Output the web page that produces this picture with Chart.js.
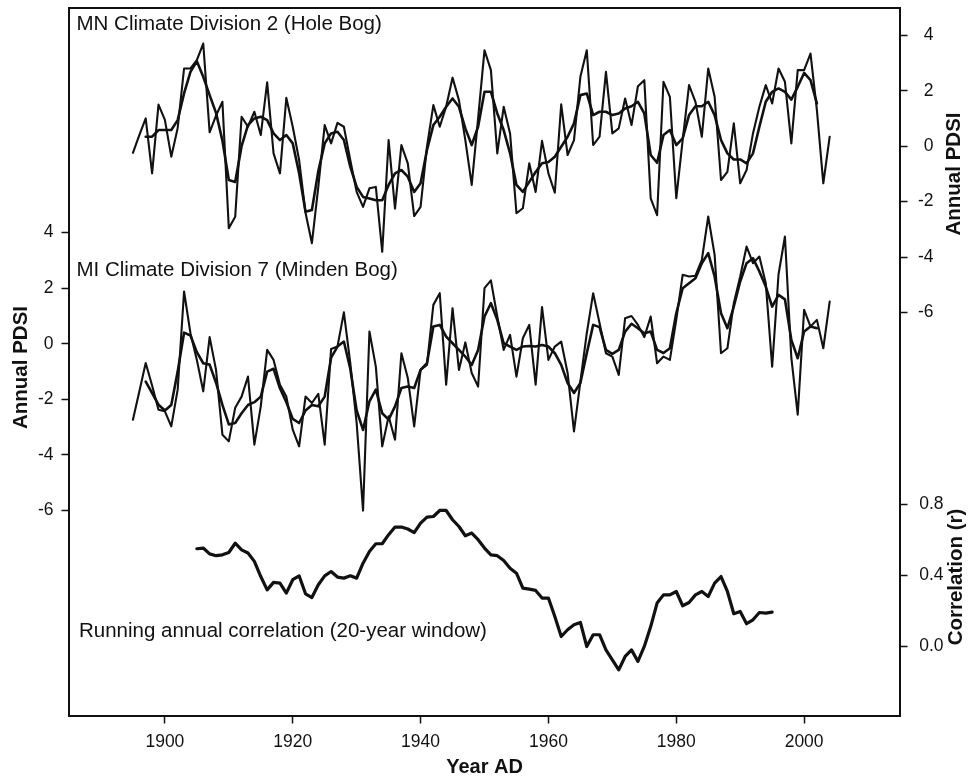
<!DOCTYPE html>
<html>
<head>
<meta charset="utf-8">
<script src="https://cdn.jsdelivr.net/npm/chart.js@4.4.1/dist/chart.umd.min.js"></script>
<style>
  html, body { margin: 0; padding: 0; background: #fff; }
  canvas { display: block; }
</style>
</head>
<body>
<canvas id="chart" width="971" height="779"></canvas>
<script>
// Annual PDSI for two climate divisions + running 20-yr correlation

// MN Climate Division 2 (Hole Bog), annual PDSI 1895-2004
const mnStart = 1895;
const mnAnnual = [
  -0.24, 0.4, 1.0, -0.98, 1.5, 0.95, -0.38, 0.65, 2.8, 2.8,
  3.1, 3.7, 0.5, 1.1, 1.6, -2.96, -2.55, 1.06, 0.7, 1.24,
  0.4, 2.3, -0.26, -0.98, 1.74, 0.7, -0.5, -2.4, -3.5, -1.47,
  0.76, 0.1, 0.84, 0.7, -0.5, -1.65, -2.19, -1.52, -1.47, -3.81,
  0.22, -2.25, 0.04, -0.62, -2.52, -2.19, -0.02, 1.48, 0.7, 1.42,
  2.47, 1.66, 0.22, -1.4, 1.0, 3.46, 2.74, -0.26, 1.42, 0.46,
  -2.42, -2.24, -0.62, -1.65, 0.19, -0.98, -1.68, 1.51, -0.32, 0.22,
  2.5, 3.46, 0.04, 0.34, 2.68, 0.46, 0.64, 1.72, 0.76, 2.16,
  2.38, -1.88, -2.49, 2.32, 1.78, -1.88, 0.22, 2.2, 1.6, 0.34,
  2.8, 1.78, -1.22, -0.93, 0.82, -1.34, -0.86, 0.46, 1.42, 2.2,
  1.54, 2.8, 2.32, 0.1, 2.74, 2.74, 3.34, 1.3, -1.34, 0.34
];
// smoothed MN curve 1897-2002
const mnSmoothStart = 1897;
const mnSmooth = [
  0.34, 0.34, 0.58, 0.58, 0.58, 0.94, 1.9, 2.68, 3.06, 2.5,
  1.84, 1.2, 0.2, -1.22, -1.29, 0.0, 0.76, 1.0, 1.06, 0.94,
  0.46, 0.22, 0.4, 0.1, -0.98, -2.37, -2.3, -0.9, 0.1, 0.46,
  0.52, 0.22, -0.74, -1.47, -1.83, -1.89, -1.95, -1.95, -1.4, -0.98,
  -0.86, -1.1, -1.65, -1.34, -0.14, 0.76, 1.06, 1.42, 1.72, 1.42,
  0.64, 0.04, 0.7, 1.96, 1.96, 1.18, 0.58, -0.26, -1.4, -1.65,
  -1.29, -0.93, -0.62, -0.57, -0.38, -0.02, 0.34, 0.82, 1.84, 1.9,
  1.12, 1.24, 1.24, 1.12, 1.18, 1.36, 1.44, 1.6, 1.18, -0.32,
  -0.6, 0.4, 0.58, 0.04, 0.28, 1.12, 1.44, 1.44, 1.6, 1.12,
  0.22, -0.26, -0.48, -0.48, -0.62, -0.26, 0.7, 1.6, 1.96, 2.08,
  1.96, 1.68, 2.14, 2.64, 2.38, 1.54
];

// MI Climate Division 7 (Minden Bog), annual PDSI 1895-2004
const miStart = 1895;
const miAnnual = [
  -2.73, -1.72, -0.69, -1.5, -2.37, -2.43, -2.97, -1.65, 1.88, 0.38,
  -0.58, -1.71, 0.24, -0.94, -3.27, -3.51, -2.3, -1.9, -1.18, -3.63,
  -2.25, -0.22, -0.58, -1.47, -1.9, -3.09, -3.69, -1.9, -2.13, -1.8,
  -3.63, -0.19, -0.1, 1.13, -0.69, -2.85, -6.0, 0.44, -0.82, -3.69,
  -2.61, -3.45, -0.34, -1.23, -2.97, -0.94, -0.76, 1.4, 1.82, -1.47,
  1.28, -0.94, 0.05, -1.05, -1.54, 2.0, 2.28, 0.98, -0.22, 0.32,
  -1.18, 0.2, 0.68, -1.47, 1.32, -0.58, -0.1, 0.08, -1.05, -3.15,
  -1.36, 0.38, 1.82, 0.74, -0.34, -0.46, -1.12, 0.92, 1.0, 0.68,
  0.24, 0.98, -0.7, -0.46, -0.58, 0.86, 2.48, 2.42, 2.45, 3.02,
  4.58, 3.2, -0.34, -0.16, 1.46, 2.42, 3.5, 2.9, 3.14, 2.18,
  -0.82, 2.5, 3.86, -0.5, -2.55, 1.22, 0.62, 0.86, -0.16, 1.52
];
const miSmoothStart = 1897;
const miSmooth = [
  -1.36, -1.77, -2.19, -2.4, -2.2, -1.0, 0.4, 0.3, -0.3, -0.7,
  -0.75, -1.4, -2.2, -2.9, -2.85, -2.5, -2.2, -2.1, -1.9, -1.0,
  -0.9, -1.6, -2.1, -2.7, -2.85, -2.4, -2.2, -2.25, -1.9, -0.5,
  -0.1, 0.08, -0.9, -2.4, -3.1, -2.07, -1.65, -2.5, -2.73, -2.25,
  -1.59, -1.54, -1.59, -0.94, -0.7, 0.62, 0.68, 0.26, 0.02, -0.22,
  -0.46, -0.76, -0.22, 0.98, 1.46, 0.86, 0.02, -0.1, -0.22, -0.1,
  -0.08, -0.1, -0.04, -0.1, -0.34, -0.76, -1.41, -1.77, -1.41, -0.34,
  0.68, 0.6, -0.22, -0.36, -0.22, 0.44, 0.72, 0.56, 0.38, 0.44,
  -0.22, -0.33, -0.16, 1.1, 2.0, 2.18, 2.36, 2.9, 3.26, 2.42,
  1.1, 0.56, 1.34, 2.24, 2.9, 3.08, 2.6, 2.06, 1.34, 1.76,
  1.6, 0.14, -0.52, 0.44, 0.62, 0.56
];

// running annual correlation (20-year window), 1905-1995
const corrStart = 1905;
const corr = [
  0.549, 0.553, 0.52, 0.51, 0.515, 0.528, 0.58, 0.543, 0.525, 0.478,
  0.393, 0.318, 0.36, 0.356, 0.3, 0.375, 0.397, 0.296, 0.275, 0.347,
  0.397, 0.421, 0.39, 0.384, 0.397, 0.384, 0.468, 0.534, 0.577, 0.577,
  0.628, 0.671, 0.671, 0.66, 0.64, 0.693, 0.727, 0.73, 0.764, 0.764,
  0.712, 0.674, 0.622, 0.637, 0.6, 0.553, 0.515, 0.51, 0.483, 0.44,
  0.412, 0.328, 0.322, 0.315, 0.272, 0.272, 0.169, 0.056, 0.094, 0.122,
  0.135, 0.0, 0.066, 0.066, -0.019, -0.075, -0.131, -0.056, -0.019, -0.084,
  0.0, 0.112, 0.244, 0.29, 0.29, 0.309, 0.229, 0.247, 0.29, 0.309,
  0.281, 0.356, 0.393, 0.309, 0.184, 0.197, 0.128, 0.15, 0.191, 0.187,
  0.193
];

// tick labels
const xTicks    = [1900, 1920, 1940, 1960, 1980, 2000];
const pdsiTicks = [-6, -4, -2, 0, 2, 4];
const corrTicks = [0.0, 0.4, 0.8];

const INK  = '#111';
const FONT = '"Liberation Sans", Arial, Helvetica, sans-serif';

// pair values with their year
const byYear = (start, vals) => vals.map((v, i) => ({ x: start + i, y: v }));
const setTicks = list => axis => { axis.ticks = list.map(v => ({ value: v })); };
// fixed axis size, no extra room for overhanging labels
const fixSize = (w, h) => axis => {
  if (w != null) axis.width = w;
  if (h != null) axis.height = h;
  axis.paddingTop = axis.paddingBottom = axis.paddingLeft = axis.paddingRight = 0;
};

const line = (data, axis, width) => ({
  data, yAxisID: axis,
  borderColor: INK, borderWidth: width,
  pointRadius: 0, tension: 0, fill: false,
  borderJoinStyle: 'round', borderCapStyle: 'round'
});

// frame top, panel captions and rotated axis titles
const decor = {
  id: 'decor',
  afterLayout(chart) {
    // right-hand labels are right-aligned just past the tick marks
    const s = chart.scales;
    s.yMN.right = s.yMN.left + 33.5;
    s.yR.right = s.yR.left + 43.5;
  },
  afterDraw(chart) {
    const { ctx, chartArea: a } = chart;
    ctx.save();
    ctx.strokeStyle = INK;
    ctx.lineWidth = 2;
    ctx.beginPath();
    ctx.moveTo(a.left - 1, a.top);
    ctx.lineTo(a.right + 1, a.top);
    ctx.stroke();

    ctx.fillStyle = INK;
    ctx.textBaseline = 'alphabetic';
    ctx.textAlign = 'left';
    ctx.font = '20.5px ' + FONT;
    ctx.fillText('MN Climate Division 2 (Hole Bog)', 76.5, 30);
    ctx.fillText('MI Climate Division 7 (Minden Bog)', 76.5, 276);
    ctx.fillText('Running annual correlation (20-year window)', 79, 636.5);

    ctx.font = 'bold 20.5px ' + FONT;
    ctx.textAlign = 'center';
    const vTitle = (txt, x, y) => {
      ctx.save();
      ctx.translate(x, y);
      ctx.rotate(-Math.PI / 2);
      ctx.fillText(txt, 0, 0);
      ctx.restore();
    };
    vTitle('Annual PDSI', 27, 367.5);
    vTitle('Annual PDSI', 960, 174);
    vTitle('Correlation (r)', 962, 577);
    ctx.restore();
  }
};

const tickFont = { family: FONT, size: 17.5 };
const axisBase = {
  border: { display: true, color: INK, width: 2 },
  grid: { drawOnChartArea: false, drawTicks: true, tickLength: 7.5, tickWidth: 1.5, tickColor: INK }
};

new Chart(document.getElementById('chart'), {
  type: 'line',
  data: {
    datasets: [
      line(byYear(mnStart, mnAnnual), 'yMN', 2.1),
      line(byYear(mnSmoothStart, mnSmooth), 'yMN', 2.6),
      line(byYear(miStart, miAnnual), 'yMI', 2.1),
      line(byYear(miSmoothStart, miSmooth), 'yMI', 2.6),
      line(byYear(corrStart, corr), 'yR', 3.2)
    ]
  },
  options: {
    responsive: false,
    animation: false,
    devicePixelRatio: 1,
    layout: { padding: { top: 8, left: 0, right: 0, bottom: 0 } },
    plugins: { legend: { display: false }, tooltip: { enabled: false } },
    scales: {
      x: {
        ...axisBase,
        type: 'linear', position: 'bottom',
        min: 1885, max: 2015,
        afterBuildTicks: setTicks(xTicks),
        afterFit: fixSize(null, 63),
        ticks: { font: tickFont, color: INK, padding: 8, maxRotation: 0, callback: v => String(v) },
        title: { display: true, text: 'Year AD', color: INK, font: { family: FONT, size: 20, weight: 'bold' }, padding: 0 }
      },
      yMI: {
        ...axisBase,
        type: 'linear', position: 'left',
        min: -13.39, max: 12.08,
        afterBuildTicks: setTicks(pdsiTicks),
        afterFit: fixSize(69, null),
        ticks: { font: tickFont, color: INK, padding: 8, callback: v => String(v) }
      },
      yMN: {
        ...axisBase,
        type: 'linear', position: 'right',
        stack: 'right', stackWeight: 336,
        min: -7.135, max: 4.982,
        afterBuildTicks: setTicks(pdsiTicks),
        afterFit: fixSize(71, null),
        ticks: { font: tickFont, color: INK, padding: 10, crossAlign: 'far', callback: v => String(v) }
      },
      yR: {
        ...axisBase,
        type: 'linear', position: 'right',
        stack: 'right', stackWeight: 372,
        min: -0.3904, max: 1.699,
        afterBuildTicks: setTicks(corrTicks),
        afterFit: fixSize(71, null),
        ticks: { font: tickFont, color: INK, padding: 10, crossAlign: 'far', callback: v => v.toFixed(1) }
      }
    }
  },
  plugins: [decor]
});
</script>
</body>
</html>
